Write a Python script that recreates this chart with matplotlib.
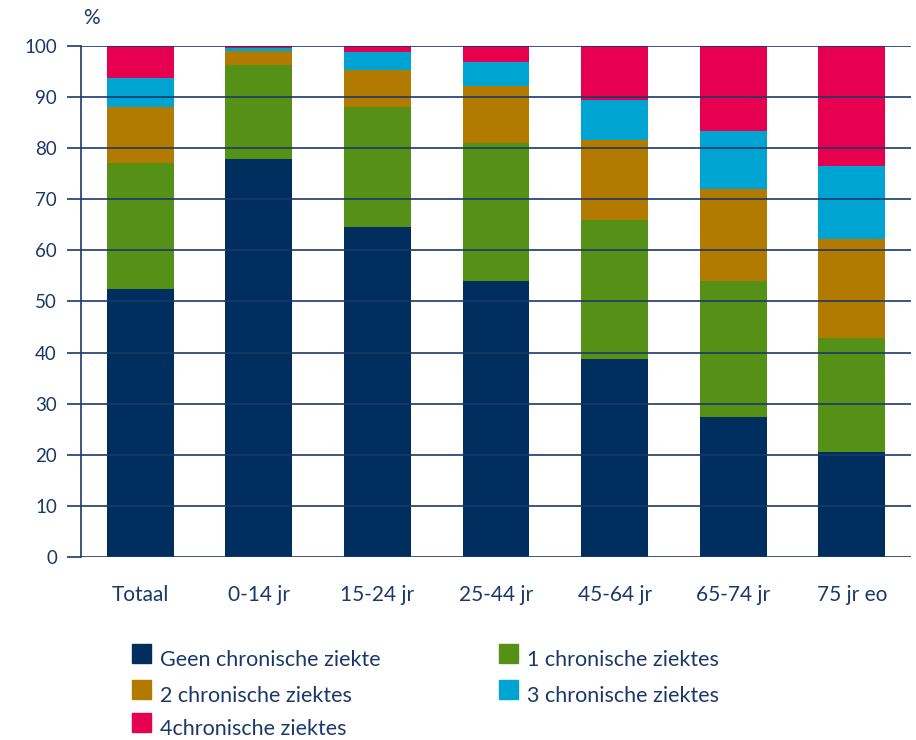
import matplotlib
matplotlib.use("Agg")
import matplotlib.pyplot as plt
from matplotlib.patches import Rectangle
import numpy as np

categories = ["Totaal", "0-14 jr", "15-24 jr", "25-44 jr", "45-64 jr", "65-74 jr", "75 jr eo"]
geen = [52.4, 77.9, 64.6, 54.1, 38.7, 27.4, 20.5]
een = [24.7, 18.3, 23.4, 26.9, 27.3, 26.6, 22.4]
twee = [11.0, 2.9, 7.3, 11.2, 15.7, 18.0, 19.3]
drie = [5.6, 0.6, 3.5, 4.7, 7.8, 11.4, 14.4]
vier = [6.3, 0.3, 1.2, 3.1, 10.5, 16.6, 23.4]
series_names = ["Geen chronische ziekte", "1 chronische ziektes", "2 chronische ziektes",
                "3 chronische ziektes", "4chronische ziektes"]
yticks = [0, 10, 20, 30, 40, 50, 60, 70, 80, 90, 100]

colors = ["#002f5f", "#569117", "#b37a00", "#00a4d3", "#e6004f"]
navy = "#1b3968"

plt.rcParams['font.family'] = ['Lato', 'DejaVu Sans']

W, H = 916, 740
fig = plt.figure(figsize=(W/100, H/100), dpi=100)
ax = fig.add_axes([81/W, (H-557)/H, (911-81)/W, (557-46)/H])

x = np.arange(len(categories))
bottom = np.zeros(len(categories))
for vals, c in zip([geen, een, twee, drie, vier], colors):
    ax.bar(x, vals, width=0.565, bottom=bottom, color=c, zorder=2)
    bottom += np.array(vals)

px2pt = 0.72
ax.set_xlim(-0.5, len(categories) - 0.5)
ax.set_ylim(0, 100)
ax.set_yticks(yticks)
ax.set_yticklabels([str(t) for t in yticks], fontsize=13.5, color=navy)
ax.set_xticks(x)
ax.set_xticklabels(categories, fontsize=15, color=navy)
ax.tick_params(axis='y', length=14*px2pt, width=1.2, color=navy, pad=10*px2pt)
ax.tick_params(axis='x', length=0, pad=28*px2pt)
ax.yaxis.grid(True, color=navy, linewidth=1.2, zorder=3)
ax.set_axisbelow(False)
for s in ['top', 'right', 'bottom']:
    ax.spines[s].set_visible(False)
ax.spines['left'].set_color(navy)
ax.spines['left'].set_linewidth(1.2)
ax.spines['left'].set_zorder(4)

fig.text(91/W, 1 - 18/H, "%", fontsize=15, color=navy, ha='center', va='center')

# legend (manual layout): square top-left pixel positions
leg_pos = [(132, 644), (499, 644), (132, 680), (499, 680), (132, 713)]
sq = 19
for (px, py), i in zip(leg_pos, range(len(series_names))):
    fig.patches.append(Rectangle((px/W, 1 - (py + sq)/H), sq/W, sq/H,
                                 transform=fig.transFigure, color=colors[i]))
    fig.text((px + 28)/W, 1 - (py + sq + 3)/H, series_names[i], fontsize=15.5, color=navy,
             ha='left', va='baseline')

fig.savefig("out.png", dpi=100)
